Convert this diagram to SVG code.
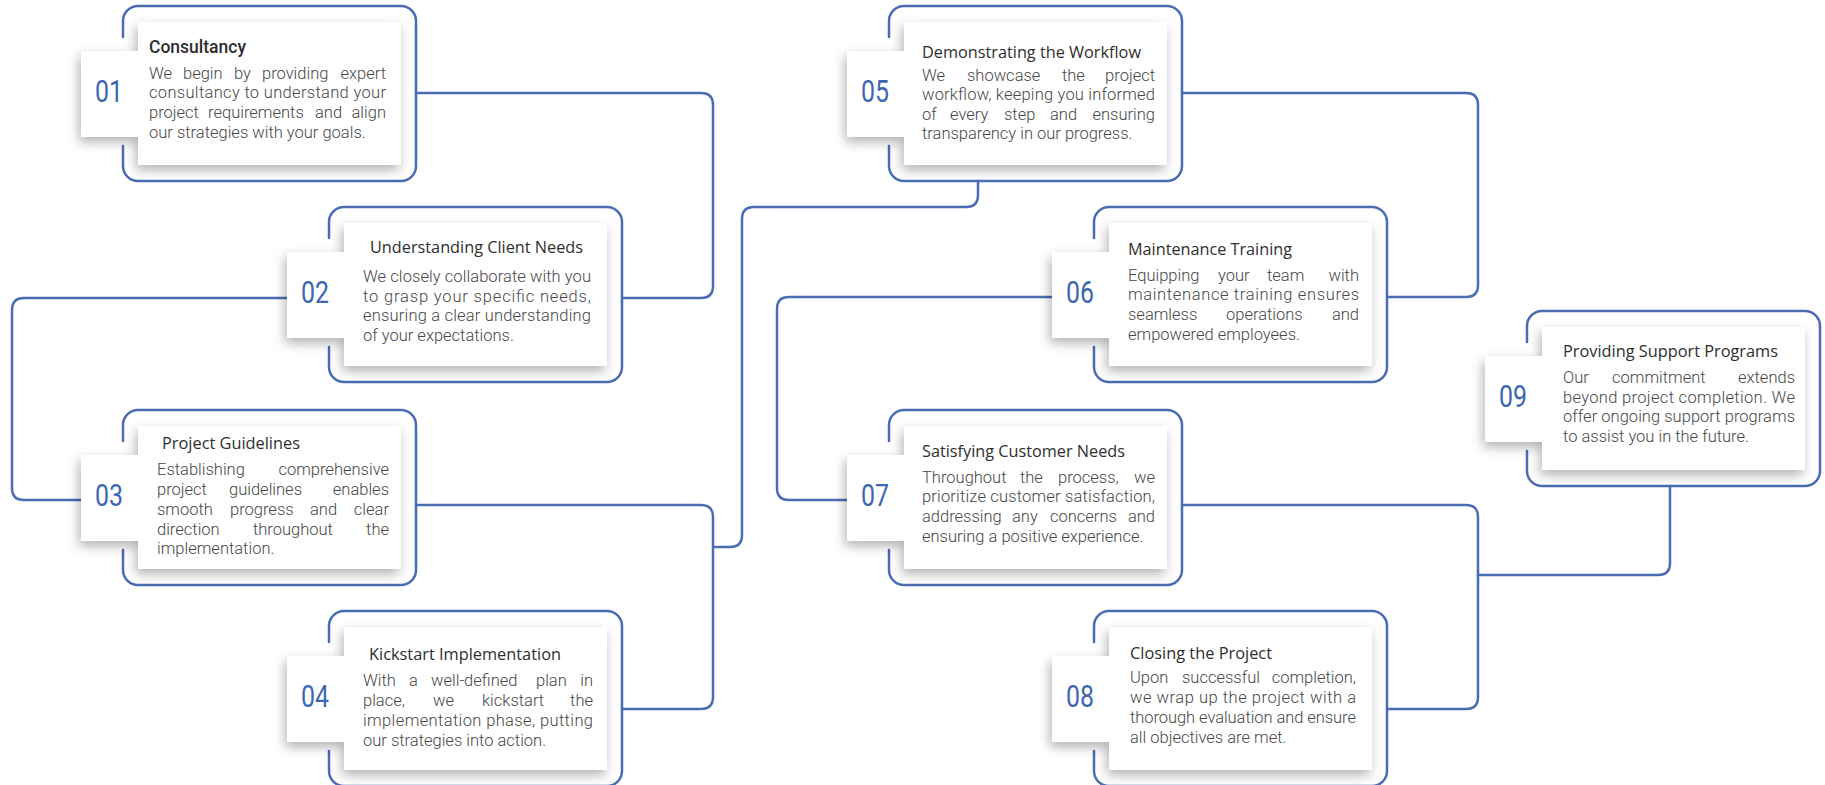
<svg xmlns="http://www.w3.org/2000/svg" xmlns:xlink="http://www.w3.org/1999/xlink" width="1825" height="785" viewBox="0 0 1825 785">
<style>
.ln{fill:none;stroke:#4a6cb4;stroke-width:2.5;stroke-linecap:round;stroke-linejoin:round}
.card{fill:#fff;filter:url(#sh)}
.num{font-family:Roboto,"Liberation Sans",sans-serif;font-size:31px;fill:#3d67b2;text-anchor:middle}
.ttl{font-family:"Open Sans","Noto Sans",sans-serif;font-size:16.5px;fill:#2e2e2e}
.ttlb{font-family:Roboto,"Liberation Sans",sans-serif;font-weight:500;font-size:17.5px;fill:#2e2e2e}
.bd{font-family:Roboto,"Liberation Sans",sans-serif;font-weight:300;font-size:16.5px;fill:#474747}
.e{text-anchor:end}
</style>
<defs>
<filter id="sh" x="-30%" y="-30%" width="160%" height="160%">
<feDropShadow dx="-2" dy="5" stdDeviation="6" flood-color="#000" flood-opacity="0.3"/>
</filter>
<path id="border" class="ln" d="M0,31 V15 A15,15 0 0 1 15,0 H278 A15,15 0 0 1 293,15 V160 A15,15 0 0 1 278,175 H15 A15,15 0 0 1 0,160 V140"/>
<path id="cardshape" class="card" d="M15,16 H278 V159 H15 V131 H-42 V45 H15 Z"/>
</defs>
<rect width="1825" height="785" fill="#fff"/>

<g id="connectors">
<path class="ln" d="M416,93 H701 Q713,93 713,105 V286 Q713,298 701,298 H622"/>
<path class="ln" d="M287,298 H24 Q12,298 12,310 V488 Q12,500 24,500 H81"/>
<path class="ln" d="M416,505 H701 Q713,505 713,517 V697 Q713,709 701,709 H622"/>
<path class="ln" d="M713,547 H730 Q742,547 742,535 V219 Q742,207 754,207 H966 Q978,207 978,195 V181"/>
<path class="ln" d="M1182,93 H1466 Q1478,93 1478,105 V285 Q1478,297 1466,297 H1387"/>
<path class="ln" d="M1052,297 H789 Q777,297 777,309 V488 Q777,500 789,500 H847"/>
<path class="ln" d="M1182,505 H1466 Q1478,505 1478,517 V697 Q1478,709 1466,709 H1387"/>
<path class="ln" d="M1670,486 V563 Q1670,575 1658,575 H1478"/>
</g>

<g id="node-01">
<use xlink:href="#border" x="123" y="6"/>
<use xlink:href="#cardshape" x="123" y="6"/>
<text class="num" x="109" y="102" textLength="28" lengthAdjust="spacingAndGlyphs">01</text>
<text class="ttlb" x="149" y="53">Consultancy</text>
<text class="bd" y="79"><tspan x="149">We</tspan><tspan x="183">begin</tspan><tspan x="234">by</tspan><tspan x="262">providing</tspan></text>
<text class="bd e" x="386" y="79">expert</text>
<text class="bd" x="149" y="98" textLength="237" lengthAdjust="spacing">consultancy to understand your</text>
<text class="bd" y="118"><tspan x="149">project</tspan><tspan x="208">requirements</tspan><tspan x="315">and</tspan></text>
<text class="bd e" x="386" y="118">align</text>
<text class="bd" x="149" y="138">our strategies with your goals.</text>
</g>

<g id="node-02">
<use xlink:href="#border" x="329" y="207"/>
<use xlink:href="#cardshape" x="329" y="207"/>
<text class="num" x="315" y="303" textLength="28" lengthAdjust="spacingAndGlyphs">02</text>
<text class="ttl" x="370" y="253" textLength="213" lengthAdjust="spacingAndGlyphs">Understanding Client Needs</text>
<text class="bd" x="363" y="282" textLength="228" lengthAdjust="spacing">We closely collaborate with you</text>
<text class="bd" x="363" y="302" textLength="228" lengthAdjust="spacing">to grasp your specific needs,</text>
<text class="bd" x="363" y="321" textLength="228" lengthAdjust="spacing">ensuring a clear understanding</text>
<text class="bd" x="363" y="341">of your expectations.</text>
</g>

<g id="node-03">
<use xlink:href="#border" x="123" y="410"/>
<use xlink:href="#cardshape" x="123" y="410"/>
<text class="num" x="109" y="506" textLength="28" lengthAdjust="spacingAndGlyphs">03</text>
<text class="ttl" x="162" y="449" textLength="138" lengthAdjust="spacingAndGlyphs">Project Guidelines</text>
<text class="bd" x="157" y="475">Establishing</text>
<text class="bd e" x="389" y="475">comprehensive</text>
<text class="bd" y="495"><tspan x="157">project</tspan><tspan x="229">guidelines</tspan></text>
<text class="bd e" x="389" y="495">enables</text>
<text class="bd" y="515"><tspan x="157">smooth</tspan><tspan x="230">progress</tspan><tspan x="310">and</tspan></text>
<text class="bd e" x="389" y="515">clear</text>
<text class="bd" y="535"><tspan x="157">direction</tspan><tspan x="253">throughout</tspan></text>
<text class="bd e" x="389" y="535">the</text>
<text class="bd" x="157" y="554">implementation.</text>
</g>

<g id="node-04">
<use xlink:href="#border" x="329" y="611"/>
<use xlink:href="#cardshape" x="329" y="611"/>
<text class="num" x="315" y="707" textLength="28" lengthAdjust="spacingAndGlyphs">04</text>
<text class="ttl" x="369" y="660" textLength="192" lengthAdjust="spacingAndGlyphs">Kickstart Implementation</text>
<text class="bd" y="686"><tspan x="363">With</tspan><tspan x="409">a</tspan><tspan x="431">well-defined</tspan><tspan x="536">plan</tspan></text>
<text class="bd e" x="593" y="686">in</text>
<text class="bd" y="706"><tspan x="363">place,</tspan><tspan x="433">we</tspan><tspan x="482">kickstart</tspan></text>
<text class="bd e" x="593" y="706">the</text>
<text class="bd" x="363" y="726" textLength="230" lengthAdjust="spacing">implementation phase, putting</text>
<text class="bd" x="363" y="746">our strategies into action.</text>
</g>

<g id="node-05">
<use xlink:href="#border" x="889" y="6"/>
<use xlink:href="#cardshape" x="889" y="6"/>
<text class="num" x="875" y="102" textLength="28" lengthAdjust="spacingAndGlyphs">05</text>
<text class="ttl" x="922" y="58" textLength="219" lengthAdjust="spacingAndGlyphs">Demonstrating the Workflow</text>
<text class="bd" y="81"><tspan x="922">We</tspan><tspan x="967">showcase</tspan><tspan x="1062">the</tspan></text>
<text class="bd e" x="1155" y="81">project</text>
<text class="bd" x="922" y="100" textLength="233" lengthAdjust="spacing">workflow, keeping you informed</text>
<text class="bd" y="120"><tspan x="922">of</tspan><tspan x="950">every</tspan><tspan x="1004">step</tspan><tspan x="1050">and</tspan></text>
<text class="bd e" x="1155" y="120">ensuring</text>
<text class="bd" x="922" y="139">transparency in our progress.</text>
</g>

<g id="node-06">
<use xlink:href="#border" x="1094" y="207"/>
<use xlink:href="#cardshape" x="1094" y="207"/>
<text class="num" x="1080" y="303" textLength="28" lengthAdjust="spacingAndGlyphs">06</text>
<text class="ttl" x="1128" y="255" textLength="164" lengthAdjust="spacingAndGlyphs">Maintenance Training</text>
<text class="bd" y="281"><tspan x="1128">Equipping</tspan><tspan x="1218">your</tspan><tspan x="1267">team</tspan></text>
<text class="bd e" x="1359" y="281">with</text>
<text class="bd" x="1128" y="300" textLength="231" lengthAdjust="spacing">maintenance training ensures</text>
<text class="bd" y="320"><tspan x="1128">seamless</tspan><tspan x="1226">operations</tspan></text>
<text class="bd e" x="1359" y="320">and</text>
<text class="bd" x="1128" y="340">empowered employees.</text>
</g>

<g id="node-07">
<use xlink:href="#border" x="889" y="410"/>
<use xlink:href="#cardshape" x="889" y="410"/>
<text class="num" x="875" y="506" textLength="28" lengthAdjust="spacingAndGlyphs">07</text>
<text class="ttl" x="922" y="457" textLength="203" lengthAdjust="spacingAndGlyphs">Satisfying Customer Needs</text>
<text class="bd" y="483"><tspan x="922">Throughout</tspan><tspan x="1020">the</tspan><tspan x="1058">process,</tspan></text>
<text class="bd e" x="1155" y="483">we</text>
<text class="bd" x="922" y="502" textLength="233" lengthAdjust="spacing">prioritize customer satisfaction,</text>
<text class="bd" y="522"><tspan x="922">addressing</tspan><tspan x="1012">any</tspan><tspan x="1050">concerns</tspan></text>
<text class="bd e" x="1155" y="522">and</text>
<text class="bd" x="922" y="542">ensuring a positive experience.</text>
</g>

<g id="node-08">
<use xlink:href="#border" x="1094" y="611"/>
<use xlink:href="#cardshape" x="1094" y="611"/>
<text class="num" x="1080" y="707" textLength="28" lengthAdjust="spacingAndGlyphs">08</text>
<text class="ttl" x="1130" y="659" textLength="142" lengthAdjust="spacingAndGlyphs">Closing the Project</text>
<text class="bd" y="683"><tspan x="1130">Upon</tspan><tspan x="1182">successful</tspan></text>
<text class="bd e" x="1356" y="683">completion,</text>
<text class="bd" x="1130" y="703" textLength="226" lengthAdjust="spacing">we wrap up the project with a</text>
<text class="bd" x="1130" y="723" textLength="226" lengthAdjust="spacing">thorough evaluation and ensure</text>
<text class="bd" x="1130" y="743">all objectives are met.</text>
</g>

<g id="node-09">
<use xlink:href="#border" x="1527" y="311"/>
<use xlink:href="#cardshape" x="1527" y="311"/>
<text class="num" x="1513" y="407" textLength="28" lengthAdjust="spacingAndGlyphs">09</text>
<text class="ttl" x="1563" y="357" textLength="215" lengthAdjust="spacingAndGlyphs">Providing Support Programs</text>
<text class="bd" y="383"><tspan x="1563">Our</tspan><tspan x="1612">commitment</tspan></text>
<text class="bd e" x="1795" y="383">extends</text>
<text class="bd" x="1563" y="403" textLength="232" lengthAdjust="spacing">beyond project completion. We</text>
<text class="bd" x="1563" y="422" textLength="232" lengthAdjust="spacing">offer ongoing support programs</text>
<text class="bd" x="1563" y="442">to assist you in the future.</text>
</g>
</svg>
